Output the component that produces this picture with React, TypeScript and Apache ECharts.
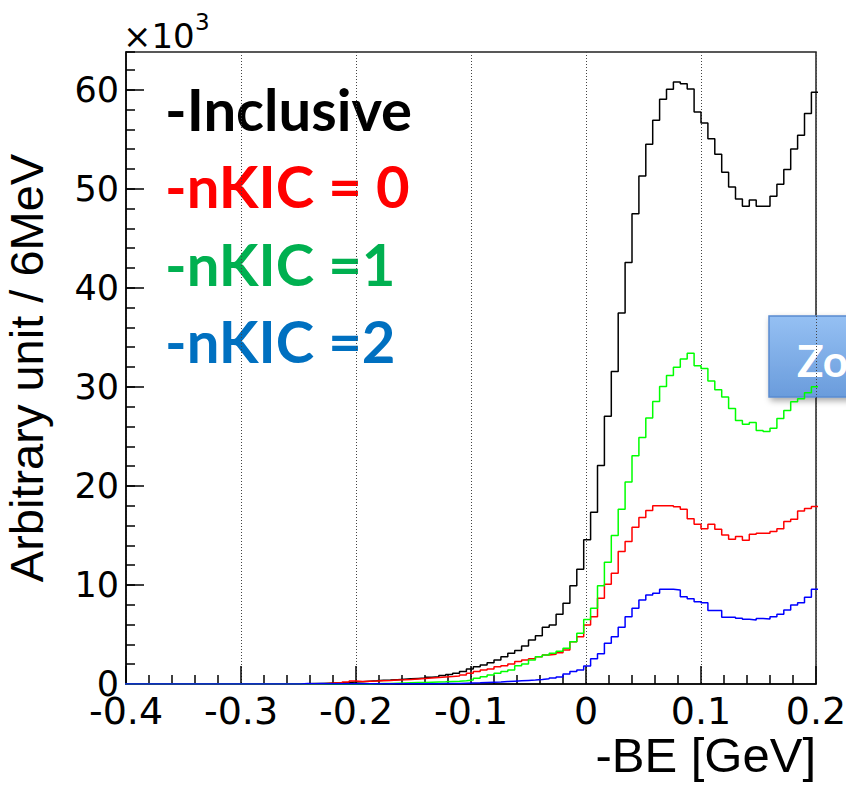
import React, { useEffect, useRef } from "react";
import * as echarts from "echarts";

// Histogram binning: 6 MeV bins, left edge of the first bin
const binStart = -0.404;
const binWidth = 0.006;

// Bin contents in units of 10^3 (one entry per bin, left to right)
const inclusive = [
  0, 0, 0, 0, 0, 0, 0, 0, 0, 0,
  0, 0, 0, 0, 0, 0, 0, 0, 0, 0,
  0, 0, 0, 0, 0, 0, 0.03, 0.05, 0.06, 0.08,
  0.1, 0.12, 0.15, 0.2, 0.23, 0.28, 0.32, 0.37, 0.4, 0.44,
  0.48, 0.52, 0.56, 0.6, 0.68, 0.74, 0.85, 0.95, 1.08, 1.25,
  1.52, 1.75, 1.92, 2.15, 2.42, 2.76, 3.1, 3.37, 3.84, 4.44,
  4.88, 5.72, 5.96, 7.04, 8.15, 9.93, 11.58, 14.55, 17.34, 22.05,
  27.04, 31.55, 37.44, 42.56, 47.47, 51.28, 54.48, 56.9, 59.02, 60.03,
  60.77, 60.6, 60.07, 57.74, 56.63, 55.05, 53.47, 51.65, 50.17, 48.96,
  48.22, 48.85, 48.22, 48.22, 49.23, 50.44, 51.95, 54.0, 55.39, 57.58,
  59.73,
];

const nkic0 = [
  0, 0, 0, 0, 0, 0, 0, 0, 0, 0,
  0, 0, 0, 0, 0, 0, 0, 0, 0, 0,
  0, 0, 0, 0, 0, 0, 0, 0, 0, 0.05,
  0.1, 0.12, 0.2, 0.3, 0.25, 0.28, 0.3, 0.33, 0.36, 0.4,
  0.42, 0.45, 0.5, 0.55, 0.6, 0.65, 0.7, 0.75, 0.81, 0.91,
  1.08, 1.25, 1.41, 1.52, 1.75, 1.85, 2.02, 2.26, 2.42, 2.56,
  2.76, 2.93, 3.0, 3.16, 3.43, 4.27, 4.78, 5.96, 6.8, 8.65,
  10.07, 11.18, 13.37, 14.38, 15.83, 16.8, 17.51, 18.0, 18.0, 18.0,
  17.9, 17.64, 16.67, 16.13, 15.66, 16.13, 15.62, 15.05, 14.61, 14.88,
  14.51, 15.12, 15.22, 15.22, 15.39, 15.66, 16.4, 16.63, 17.47, 17.71,
  17.91,
];

const nkic1 = [
  0, 0, 0, 0, 0, 0, 0, 0, 0, 0,
  0, 0, 0, 0, 0, 0, 0, 0, 0, 0,
  0, 0, 0, 0, 0, 0, 0, 0, 0, 0,
  0, 0, 0, 0, 0, 0, 0.03, 0.05, 0.06, 0.08,
  0.1, 0.12, 0.14, 0.16, 0.18, 0.2, 0.22, 0.25, 0.27, 0.33,
  0.4, 0.57, 0.74, 0.9, 1.08, 1.25, 1.41, 1.85, 2.02, 2.42,
  2.76, 2.93, 3.1, 3.3, 3.6, 4.27, 5.12, 6.5, 7.64, 9.93,
  12.28, 14.99, 17.64, 20.38, 23.03, 24.88, 26.84, 28.52, 30.03, 31.14,
  31.98, 32.8, 33.4, 32.12, 31.85, 30.6, 29.7, 28.96, 27.8, 26.6,
  26.23, 26.4, 25.58, 25.49, 25.82, 26.8, 27.6, 28.5, 28.8, 29.4,
  30.0,
];

const nkic2 = [
  0, 0, 0, 0, 0, 0, 0, 0, 0, 0,
  0, 0, 0, 0, 0, 0, 0, 0, 0, 0,
  0, 0, 0, 0, 0, 0, 0.04, 0.02, 0.04, 0.03,
  0.02, 0.02, 0.02, 0.02, 0.02, 0.02, 0.02, 0.02, 0.02, 0.02,
  0.02, 0.02, 0.02, 0.02, 0.02, 0.03, 0.04, 0.05, 0.06, 0.08,
  0.1, 0.12, 0.15, 0.18, 0.2, 0.24, 0.28, 0.32, 0.36, 0.4,
  0.45, 0.52, 0.6, 0.7, 1.0, 1.25, 1.41, 1.82, 2.55, 3.05,
  4.11, 4.78, 5.72, 6.8, 7.64, 8.48, 8.99, 9.16, 9.56, 9.56,
  9.5, 8.82, 8.6, 8.31, 8.21, 7.41, 7.41, 6.73, 6.73, 6.63,
  6.53, 6.46, 6.6, 6.55, 6.8, 7.04, 7.47, 7.98, 8.21, 8.76,
  9.56,
];

const seriesNames = ["Inclusive", "nKIC = 0", "nKIC = 1", "nKIC = 2"];
const seriesValues = [inclusive, nkic0, nkic1, nkic2];
const lineColors = ["#000000", "#ff0000", "#00ff00", "#0000ff"];

const legendLabels = ["-Inclusive", "-nKIC = 0", "-nKIC =1", "-nKIC =2"];
const legendColors = ["#000000", "#ff0000", "#00b050", "#0070c0"];

const xTitle = "-BE [GeV]";
const yTitle = "Arbitrary unit / 6MeV";
const xMin = -0.4;
const xMax = 0.2;
const yMax = 63.8;

// Left-edge points plus a closing point so the last bin gets its full width
function histogramSteps(values: number[]): number[][] {
  const pts = values.map((v, k) => [binStart + k * binWidth, v]);
  pts.push([binStart + values.length * binWidth, values[values.length - 1]]);
  return pts;
}

const labelFont = "DejaVu Sans";
const titleFont = "Liberation Sans";
const tickStyle = { color: "#000", width: 1.5 };

export default function App() {
  const ref = useRef<HTMLDivElement>(null);

  useEffect(() => {
    if (!ref.current) return;
    const chart = echarts.init(ref.current, null, { renderer: "svg" });

    const legendTexts = legendLabels.map((t, i) => ({
      type: "text",
      x: 165,
      y: 108 + i * 77.5,
      silent: true,
      style: {
        text: t,
        fill: legendColors[i],
        fontFamily: "Lato",
        fontWeight: "bold",
        fontSize: 58,
        align: "left",
        verticalAlign: "middle",
      },
    }));

    chart.setOption({
      animation: false,
      grid: {
        left: 126,
        right: 30,
        top: 52,
        bottom: 101,
        outerBoundsMode: "none",
        show: true,
        borderColor: "#222",
        borderWidth: 1.5,
      },
      xAxis: {
        type: "value",
        min: xMin,
        max: xMax,
        interval: 0.1,
        axisLine: { show: true, onZero: false, lineStyle: tickStyle },
        axisTick: { show: true, inside: true, length: 18, lineStyle: tickStyle },
        minorTick: { show: true, splitNumber: 5, length: 9, lineStyle: tickStyle },
        splitLine: { show: true, lineStyle: { color: "#444", width: 1, type: [1, 2] } },
        axisLabel: { fontFamily: labelFont, fontSize: 38, color: "#000", margin: 8 },
        name: xTitle,
        nameLocation: "end",
        nameGap: 0,
        nameTextStyle: {
          fontFamily: titleFont,
          fontSize: 49,
          color: "#000",
          align: "right",
          verticalAlign: "top",
          padding: [46, 0, 0, 0],
        },
      },
      yAxis: [
        {
          type: "value",
          min: 0,
          max: yMax,
          interval: 10,
          axisLine: { show: true, onZero: false, lineStyle: tickStyle },
          axisTick: { show: true, inside: true, length: 18, lineStyle: tickStyle },
          splitLine: { show: false },
          axisLabel: {
            fontFamily: labelFont,
            fontSize: 35,
            color: "#000",
            margin: 7,
            showMaxLabel: false,
          },
          name: yTitle,
          nameLocation: "middle",
          nameGap: 76,
          nameTextStyle: { fontFamily: titleFont, fontSize: 47, color: "#000" },
        },
        {
          // minor ticks every 2 units
          type: "value",
          min: 0,
          max: yMax,
          interval: 2,
          position: "left",
          axisLine: { show: false, onZero: false },
          axisTick: { show: true, inside: true, length: 9, lineStyle: tickStyle },
          axisLabel: { show: false },
          splitLine: { show: false },
        },
      ],
      series: seriesValues.map((vals, i) => ({
        name: seriesNames[i],
        type: "line",
        step: "end",
        data: histogramSteps(vals),
        showSymbol: false,
        symbol: "none",
        silent: true,
        z: 3 + i,
        lineStyle: { color: lineColors[i], width: 1.5 },
        emphasis: { disabled: true },
      })),
      graphic: [
        {
          type: "text",
          x: 123,
          y: 35.5,
          silent: true,
          style: {
            text: "×10",
            fill: "#000",
            fontFamily: labelFont,
            fontSize: 34,
            align: "left",
            verticalAlign: "middle",
          },
        },
        {
          type: "text",
          x: 195,
          y: 21.5,
          silent: true,
          style: {
            text: "3",
            fill: "#000",
            fontFamily: labelFont,
            fontSize: 23,
            align: "left",
            verticalAlign: "middle",
          },
        },
        ...legendTexts,
        {
          type: "group",
          silent: true,
          children: [
            {
              type: "rect",
              shape: { x: 769, y: 316, width: 110, height: 81 },
              style: {
                fill: new echarts.graphic.LinearGradient(0, 0, 0, 1, [
                  { offset: 0, color: "#95c0f3" },
                  { offset: 1, color: "#6a9cdc" },
                ]),
                stroke: "#5a8bd0",
                lineWidth: 1.5,
                shadowBlur: 6,
                shadowOffsetX: 2,
                shadowOffsetY: 3,
                shadowColor: "rgba(0,0,0,0.35)",
              },
            },
            {
              type: "text",
              x: 797,
              y: 360,
              style: {
                text: "Zoom",
                fill: "#ffffff",
                fontFamily: "Lato",
                fontWeight: "bold",
                fontSize: 44,
                align: "left",
                verticalAlign: "middle",
              },
            },
          ],
        },
      ],
    });

    return () => chart.dispose();
  }, []);

  return (
    <div
      ref={ref}
      style={{ position: "fixed", left: 0, top: 0, width: 846, height: 785, background: "#fff" }}
    />
  );
}
